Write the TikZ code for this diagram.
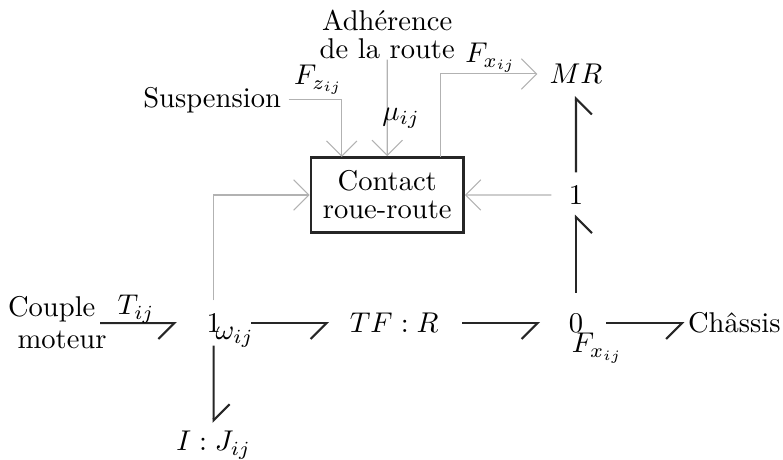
\documentclass[tikz,border=0pt]{standalone}
\usetikzlibrary{arrows.meta}
\begin{document}
\begin{tikzpicture}
    [every node/.style={inner sep=0pt,scale=1.22,font=\fontsize{10}{9.8}\selectfont},
     pre/.style={{Straight Barb[harpoon,swap,length=6.8pt,width=13.6pt]}-,line width=.9pt,black!85},
     preb/.style={{Straight Barb[harpoon,length=6.8pt,width=13.6pt]}-,line width=.9pt,black!85},
     sig/.style={-{Straight Barb[length=6.5pt,width=13pt]},black!30,line width=.45pt}]
    \useasboundingbox (0,0) rectangle (11.75,6.89);
    \node [align=left] (couple) at (0.86,2.042) {Couple\\[1.4pt]\ moteur};
    \node (j1) at (3.206,2.042) {\(1\)}
      edge [pre,shorten <=12.4pt,shorten >=-3pt] (couple);
    \node (tf) at (5.916,2.042) {\(TF:R\)}
      edge [pre,shorten <=8.6pt,shorten >=12.8pt] (j1);
    \node (j0) at (8.644,2.042) {\(0\)}
      edge [pre,shorten <=12pt,shorten >=9.8pt] (tf);
    \node (chassis) at (11.02,2.042) {Ch\^assis}
      edge [pre,shorten <=1.3pt,shorten >=9.4pt] (j0);
    \node (ij) at (3.206,0.21) {\(I:J_{ij}\)}
      edge [preb,shorten <=3.4pt,shorten >=5.5pt] (j1);
    \node (j1b) at (8.644,3.964) {\(1\)}
      edge [pre,shorten <=4.2pt,shorten >=8.5pt] (j0);
    \node (mr) at (8.644,5.78) {\(MR\)}
      edge [pre,shorten <=5pt,shorten >=5.5pt] (j1b);
    \node [draw=black!85,line width=1pt,align=center,minimum width=53.3pt,minimum height=26.2pt] (contact) at (5.811,3.964) {Contact\\roue-route};
    \node (susp) at (3.183,5.39) {Suspension};
    \node [align=center] (adh) at (5.811,6.37) {Adh\'erence\\de la route};
    \coordinate (inz) at (5.128,4.535);
    \coordinate (outx) at (6.607,4.535);
    \draw [sig,shorten <=3pt] (susp) -| (inz);
    \draw [sig] (adh) -- (contact);
    \draw [sig,shorten <=5.5pt] (j1) |- (contact);
    \draw [sig,shorten <=7.2pt] (j1b) -- (contact);
    \draw [sig,shorten >=5pt] (outx) |- (mr);
    \node (fz) at (4.78,5.69) {\(F_{z_{ij}}\)};
    \node (mu) at (6.02,5.12) {\(\mu_{ij}\)};
    \node (fxa) at (7.365,6.02) {\(F_{x_{ij}}\)};
    \node (fxb) at (8.964,1.667) {\(F_{x_{ij}}\)};
    \node (tij) at (2.042,2.25) {\(T_{ij}\)};
    \node (wij) at (3.521,1.83) {\(\omega_{ij}\)};
  \end{tikzpicture}
\end{document}
